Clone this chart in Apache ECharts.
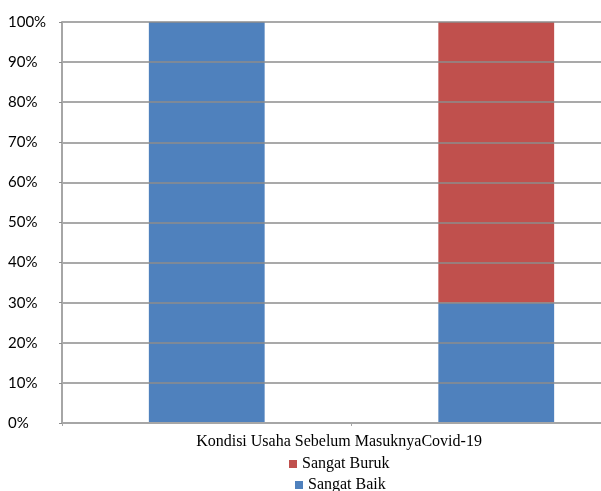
<!DOCTYPE html>
<html>
<head>
<meta charset="utf-8">
<script src="https://cdn.jsdelivr.net/npm/echarts@6/dist/echarts.min.js"></script>
<style>
  html, body { margin: 0; padding: 0; background: #fff; overflow: hidden; }
  #main { width: 601px; height: 491px; }
</style>
</head>
<body>
<div id="main"></div>
<script>
// data
var categories = ['Kondisi 1', 'Kondisi 2'];
var sangatBaik = [100, 30];
var sangatBuruk = [0, 70];
var yTicks = [0, 10, 20, 30, 40, 50, 60, 70, 80, 90, 100];
var axisTitle = 'Kondisi Usaha Sebelum MasuknyaCovid-19';

var legendText = { fontFamily: 'Liberation Serif', fontSize: 16, color: '#000' };

var chart = echarts.init(document.getElementById('main'));
chart.setOption({
  animation: false,
  // the original plot runs past the right edge of the picture
  grid: { left: 62, top: 22, bottom: 68, width: 579, outerBoundsMode: 'none' },
  legend: [
    {
      data: ['Sangat Buruk'], left: 284, top: 451,
      icon: 'rect', itemWidth: 8, itemHeight: 8, textStyle: legendText
    },
    {
      data: ['Sangat Baik'], left: 290, top: 472,
      icon: 'rect', itemWidth: 8, itemHeight: 8, textStyle: legendText
    }
  ],
  xAxis: {
    type: 'category',
    data: categories,
    name: axisTitle,
    nameLocation: 'middle',
    nameGap: 11,
    nameTextStyle: {
      fontFamily: 'Liberation Serif', fontSize: 16, color: '#000',
      padding: [0, 25, 0, 0]
    },
    axisLine: { lineStyle: { color: '#a6a6a6', width: 2 } },
    axisTick: { show: true, length: 3, lineStyle: { color: '#a6a6a6' } },
    axisLabel: { show: false },
    z: 5
  },
  yAxis: {
    type: 'value',
    min: yTicks[0],
    max: yTicks[yTicks.length - 1],
    interval: 10,
    axisLine: { show: true, lineStyle: { color: '#a6a6a6', width: 2 } },
    axisTick: { show: true, length: 3, lineStyle: { color: '#8c8c8c' } },
    axisLabel: {
      align: 'left', margin: 54,
      formatter: '{value}%',
      fontFamily: 'Lato', fontSize: 15, color: '#000'
    },
    splitLine: { lineStyle: { color: '#8c8c8c', width: 1.5 } },
    z: 5
  },
  series: [
    {
      name: 'Sangat Baik', type: 'bar', stack: 'total',
      data: sangatBaik, barWidth: '40%',
      itemStyle: { color: '#4f81bd' }
    },
    {
      name: 'Sangat Buruk', type: 'bar', stack: 'total',
      data: sangatBuruk, barWidth: '40%',
      itemStyle: { color: '#c0504d' }
    }
  ]
});
</script>
</body>
</html>
